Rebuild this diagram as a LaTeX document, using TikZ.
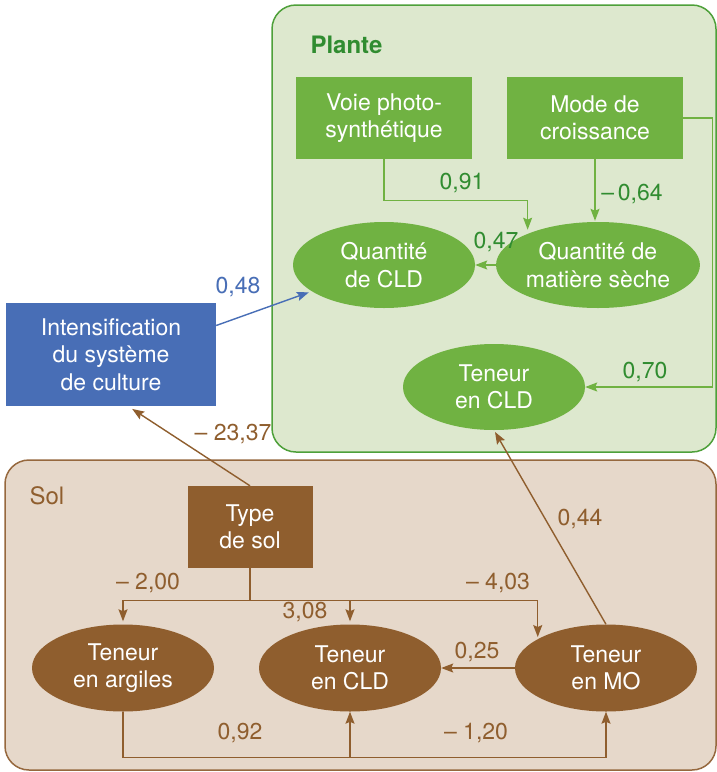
\documentclass[tikz,border=0pt]{standalone}
\usepackage{fontspec}
\setmainfont{TeX Gyre Heros}
\usepackage{xcolor}
\usepackage{tikz}
\usetikzlibrary{arrows.meta, positioning, shapes.geometric}

\definecolor{plantbg}{RGB}{221,232,206}
\definecolor{plantedge}{RGB}{78,160,58}
\definecolor{plantgreen}{RGB}{112,178,66}
\definecolor{planttxt}{RGB}{48,140,48}
\definecolor{solbg}{RGB}{230,216,202}
\definecolor{soledge}{RGB}{150,104,62}
\definecolor{solbrown}{RGB}{143,94,46}
\definecolor{intblue}{RGB}{72,110,182}

\begin{document}
\begin{tikzpicture}[x=1pt, y=-1pt, font=\fontsize{23}{27.5}\selectfont]
  \tikzset{
    gbox/.style={fill=plantgreen, text=white, align=center, minimum width=176pt, minimum height=82pt, inner sep=0pt},
    gell/.style={ellipse, fill=plantgreen, text=white, align=center, minimum width=182pt, minimum height=86pt, inner sep=0pt},
    bell/.style={ellipse, fill=solbrown, text=white, align=center, minimum width=182pt, minimum height=87pt, inner sep=0pt},
    garrow/.style={draw=plantgreen, line width=1.4pt, -{Stealth[length=12pt,width=9pt,inset=2pt]}},
    barrow/.style={draw=solbrown, line width=1.4pt, -{Stealth[length=12pt,width=9pt,inset=2pt]}},
    blarrow/.style={draw=intblue, line width=1.4pt, -{Stealth[length=12pt,width=9pt,inset=2pt]}},
    glabel/.style={text=planttxt},
    blabel/.style={text=solbrown}
  }
  \useasboundingbox (0,0) rectangle (716,772);
  \fill[white] (0,0) rectangle (716,772);
  % Panels
  \draw[draw=plantedge, fill=plantbg, line width=1.5pt, rounded corners=24pt] (272,5) rectangle (716,452);
  \draw[draw=soledge, fill=solbg, line width=1.5pt, rounded corners=24pt] (5,460) rectangle (716,770);
  \node[anchor=west, text=planttxt, font=\fontsize{24}{28}\selectfont\bfseries] (plante) at (307,45) {Plante};
  \node[anchor=west, text=solbrown, font=\fontsize{24}{28}\selectfont] (sol) at (26,496) {Sol};

  % Plant part
  \node[gbox] (voie) at (384,118) {Voie photo-\\synthétique};
  \node[gbox] (mode) at (595,118) {Mode de\\croissance};
  \node[gell] (qcld) at (384,265) {Quantité\\de CLD};
  \node[gell, minimum width=176pt] (qms) at (598,265) {Quantité de\\matière sèche};
  \node[gell] (tcld) at (494,387) {Teneur\\en CLD};

  % Intensification
  \node[fill=intblue, text=white, align=center, minimum width=210pt, minimum height=103pt, inner sep=0pt] (intens) at (111,354.5) {Intensification\\du système\\de culture};

  % Soil part
  \node[fill=solbrown, text=white, align=center, minimum width=125pt, minimum height=82pt, inner sep=0pt] (tsol) at (250,527) {Type\\de sol};
  \node[bell] (arg) at (123,668) {Teneur\\en argiles};
  \node[bell] (scld) at (350,668) {Teneur\\en CLD};
  \node[bell] (mo) at (606,668) {Teneur\\en MO};

  % Plant arrows
  \draw[garrow, shorten >=4pt] (voie.south) -- ++(0,41) -| (qms.156);
  \draw[garrow, shorten >=1pt] (mode.south) -- (mode.south |- qms.north);
  \draw[garrow] (qms.west) -- (qcld.east);
  \draw[garrow] (mode.east) -- ++(29,0) |- (tcld.east);
  \node[glabel] (l091) at (462,183) {0,91};
  \node[glabel] (l064) at (632,194) {–\,0,64};
  \node[glabel] (l047) at (496,242) {0,47};
  \node[glabel] (l070) at (645,372) {0,70};

  % Intensification arrows
  \draw[blarrow, shorten >=3pt] ([yshift=29pt]intens.east) -- (qcld.200);
  \node[text=intblue] (l048) at (238,287) {0,48};
  \draw[barrow, shorten >=5pt] (tsol.north) -- ([xshift=17pt]intens.south);
  \node[blabel] (l2337) at (233,434) {– 23,37};

  % Soil arrows
  \draw[draw=solbrown, line width=1.4pt] (tsol.south) -- ++(0,32) coordinate (split);
  \draw[barrow, shorten >=3pt] (split) -| (arg.north);
  \draw[barrow, shorten >=3pt] (split) -| (scld.north);
  \draw[barrow, shorten >=2pt] (split) -| (mo.157);
  \draw[barrow] (mo.west) -- (scld.east);
  \draw[barrow, shorten >=2pt] (mo.north) -- (tcld.south);
  \draw[barrow] (arg.south) -- ++(0,46) coordinate (low) -| (mo.south);
  \draw[barrow] (low) -| (scld.south);
  \node[blabel] (l200) at (148,583) {– 2,00};
  \node[blabel] (l308) at (305,612) {3,08};
  \node[blabel] (l403) at (498,583) {– 4,03};
  \node[blabel] (l025) at (477,652) {0,25};
  \node[blabel] (l044) at (580,519) {0,44};
  \node[blabel] (l092) at (240,733) {0,92};
  \node[blabel] (l120) at (476,733) {– 1,20};
\end{tikzpicture}
\end{document}
